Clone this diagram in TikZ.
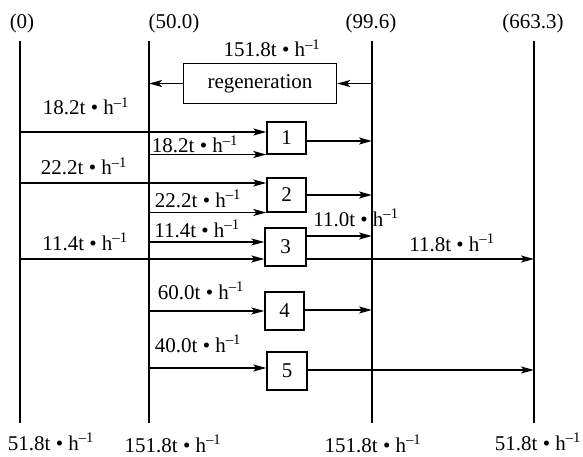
\documentclass[tikz,border=0pt]{standalone}
\usepackage{fontspec}
\setmainfont{Liberation Serif}
\usetikzlibrary{arrows.meta}
\newcommand\flowrate[1]{#1t • h\textsuperscript{–1}}
\begin{document}
\begin{tikzpicture}[x=1pt,y=-1pt,line width=1.4pt,
  every node/.style={font=\fontsize{21}{24}\selectfont},
  unit/.style={draw,inner sep=0pt,minimum width=#1},
  unit/.default=39pt,
  lbl/.style={anchor=base,inner sep=0pt},
  flow/.style={-{Stealth[length=13pt,width=7pt,inset=3pt]}}]
\useasboundingbox (0,0) rectangle (583,457);

% pressure levels (axes)
\coordinate (s0t) at (20,41);  \coordinate (s0b) at (20,423);
\coordinate (s1t) at (149,41); \coordinate (s1b) at (149,423);
\coordinate (s2t) at (372,41); \coordinate (s2b) at (372,423);
\coordinate (s3t) at (534,41); \coordinate (s3b) at (534,423);
\draw (s0t) -- (s0b);
\draw (s1t) -- (s1b);
\draw (s2t) -- (s2b);
\draw (s3t) -- (s3b);

\node[lbl] (h0) at (22,29) {(0)};
\node[lbl] (h1) at (174,29) {(50.0)};
\node[lbl] (h2) at (371,29) {(99.6)};
\node[lbl] (h3) at (533,29) {(663.3)};

% units
\node[unit=153pt,minimum height=40pt] (regen) at (260,83.5) {regeneration};
\node[unit,minimum height=32pt] (b1) at (286.5,138) {1};
\node[unit,minimum height=34pt] (b2) at (286.5,195) {2};
\node[unit=41pt,minimum height=38pt] (b3) at (285.5,247) {3};
\node[unit,minimum height=38pt] (b4) at (284.5,311) {4};
\node[unit=40pt,minimum height=38pt] (b5) at (287,371) {5};

% regeneration loop
\draw[flow] (s2t |- regen.east) -- (regen.east);
\draw[flow] (regen.west) -- (s1t |- regen.west);

% feeds
\coordinate (i1a) at (20,132);    \draw[flow] (i1a) -- (i1a -| b1.west);
\coordinate (i1b) at (149,154.5); \draw[flow] (i1b) -- (i1b -| b1.west);
\coordinate (i2a) at (20,183);    \draw[flow] (i2a) -- (i2a -| b2.west);
\coordinate (i2b) at (149,212.5); \draw[flow] (i2b) -- (i2b -| b2.west);
\coordinate (i3a) at (149,242);   \draw[flow] (i3a) -- (i3a -| b3.west);
\coordinate (i3b) at (20,259);    \draw[flow] (i3b) -- (i3b -| b3.west);
\coordinate (i4) at (149,311);    \draw[flow] (i4) -- (i4 -| b4.west);
\coordinate (i5) at (149,368);    \draw[flow] (i5) -- (i5 -| b5.west);

% products
\coordinate (o1) at (372,141);  \draw[flow] (o1 -| b1.east) -- (o1);
\coordinate (o2) at (372,195);  \draw[flow] (o2 -| b2.east) -- (o2);
\coordinate (o3a) at (372,236); \draw[flow] (o3a -| b3.east) -- (o3a);
\coordinate (o3b) at (534,259); \draw[flow] (o3b -| b3.east) -- (o3b);
\coordinate (o4) at (372,310);  \draw[flow] (o4 -| b4.east) -- (o4);
\coordinate (o5) at (534,370);  \draw[flow] (o5 -| b5.east) -- (o5);

% flow rates
\node[lbl] (rr) at (272,57) {\flowrate{151.8}};
\node[lbl] (r1a) at (86,115) {\flowrate{18.2}};
\node[lbl] (r1b) at (195,153) {\flowrate{18.2}};
\node[lbl] (r2a) at (84,175) {\flowrate{22.2}};
\node[lbl] (r2b) at (198,207) {\flowrate{22.2}};
\node[lbl] (r3a) at (197,237) {\flowrate{11.4}};
\node[lbl] (r3b) at (85,250) {\flowrate{11.4}};
\node[lbl] (r3c) at (356,226) {\flowrate{11.0}};
\node[lbl] (r3d) at (452,251) {\flowrate{11.8}};
\node[lbl] (r4) at (201,299) {\flowrate{60.0}};
\node[lbl] (r5) at (198,352) {\flowrate{40.0}};

\node[lbl] (f0) at (51,450) {\flowrate{51.8}};
\node[lbl] (f1) at (173,452) {\flowrate{151.8}};
\node[lbl] (f2) at (373,452) {\flowrate{151.8}};
\node[lbl] (f3) at (538,450) {\flowrate{51.8}};
\end{tikzpicture}
\end{document}
